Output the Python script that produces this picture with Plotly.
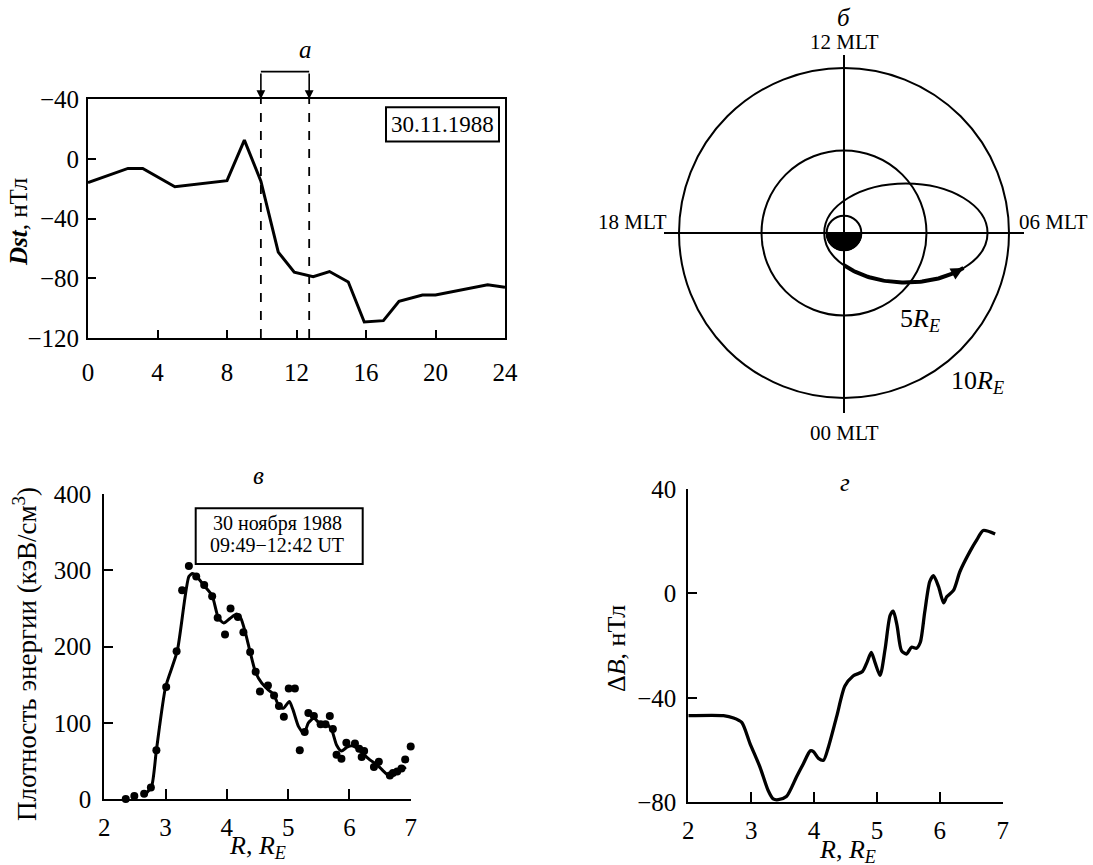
import numpy as np
import plotly.graph_objects as go

W, H = 1093, 865
FONT = "Liberation Serif"


def px(x):
    return x / W


def py(y):
    return 1 - y / H


# ---------------- Panel a: Dst index ----------------
dst_hours = [0, 2.3, 3.15, 5.0, 8.0, 9.0, 9.95, 10.95, 11.87, 12.96, 13.9, 14.98,
             15.9, 17.0, 17.9, 19.25, 20.0, 23.0, 24]
dst_values = [-16, -6.5, -6.5, -18.7, -14.7, 12.5, -15, -62.5, -76, -79, -75.5, -82.5,
              -109.3, -108.4, -95.5, -91.2, -91.2, -84.3, -86.1]
dst_tickvals = [-120, -80, -40, 0, 40]
dst_ticktext = ["−120", "−80", "−40", "0", "−40"]
hour_ticks = [0, 4, 8, 12, 16, 20, 24]
interval_hours = [9.95, 12.73]
date_label = "30.11.1988"

# ---------------- Panel б: orbit schematic (Earth radii) ----------------
ring_radii = [5, 10]
earth_radius = 1.05
orbit_x_span = [-1.2, 8.7]
orbit_y_span = [-3.0, 3.0]
pass_x_span = [0.0, 7.24]          # highlighted part of the orbit (x positions)
mlt_labels = ["12 MLT", "06 MLT", "00 MLT", "18 MLT"]
ring_labels = ["5<i>R</i><sub><i>E</i></sub>", "10<i>R</i><sub><i>E</i></sub>"]

# ---------------- Panel в: energy density ----------------
dot_r = [2.35, 2.49, 2.65, 2.76, 2.85, 3.01, 3.18, 3.27, 3.38, 3.50, 3.63, 3.76, 3.85,
         3.97, 4.06, 4.18, 4.27, 4.38, 4.47, 4.54, 4.67, 4.77, 4.85, 4.93, 5.01, 5.11,
         5.19, 5.27, 5.33, 5.42, 5.53, 5.61, 5.68, 5.73, 5.79, 5.87, 5.95, 6.09, 6.16,
         6.20, 6.24, 6.40, 6.48, 6.66, 6.71, 6.78, 6.85, 6.91, 7.0]
dot_energy = [0, 4, 7, 15, 64, 147, 194, 274, 306, 292, 281, 266, 238,
              216, 250, 239, 219, 193, 167, 141, 149, 136, 122, 108, 145, 145,
              64, 88, 113, 109, 98, 98, 109, 92, 58, 53, 74, 73, 66,
              55, 63, 42, 49, 31, 34, 36, 40, 52, 69]
fit_r = [2.65, 2.77, 2.85, 3.0, 3.19, 3.38, 3.44, 3.51, 3.63, 3.76, 3.86, 3.95, 4.05,
         4.16, 4.23, 4.30, 4.38, 4.47, 4.57, 4.68, 4.76, 4.85, 4.92, 5.02, 5.08, 5.17,
         5.26, 5.33, 5.42, 5.52, 5.63, 5.71, 5.79, 5.87, 5.96, 6.04, 6.12, 6.23, 6.34,
         6.45, 6.55, 6.64, 6.72, 6.80, 6.87, 6.92]
fit_energy = [5, 16, 64, 147, 194, 292, 296, 292, 280, 267, 238, 231, 237,
              243, 237, 219, 193, 166, 152, 143, 138, 122, 119, 128, 117, 95,
              86, 100, 106, 99, 98, 91, 71, 63, 68, 70, 67, 59, 51,
              45, 37, 31, 33, 36, 39, 42]
box_lines = ["30 ноября 1988", "09:49−12:42 UT"]

# ---------------- Panel г: ΔB ----------------
db_r = [2.0, 2.56, 2.72, 2.85, 2.98, 3.14, 3.27, 3.35, 3.43, 3.56, 3.72, 3.83, 3.94,
        3.99, 4.07, 4.15, 4.23, 4.36, 4.49, 4.62, 4.77, 4.84, 4.91, 4.97, 5.05, 5.13,
        5.21, 5.26, 5.32, 5.39, 5.47, 5.55, 5.63, 5.69, 5.76, 5.84, 5.90, 5.98, 6.06,
        6.11, 6.22, 6.32, 6.48, 6.59, 6.69, 6.88]
db_values = [-46.8, -46.8, -47.7, -49.4, -57.4, -66.5, -75.5, -78.7, -79, -77.8, -70.3,
             -65.2, -60.3, -60.6, -63.2, -63.9, -58.7, -47.1, -35.5, -31.6, -29.9,
             -26.5, -22.6, -26.5, -31.4, -21.3, -8.4, -6.8, -12.3, -21.9, -23.2,
             -20.6, -21.0, -18.7, -7.1, 4.5, 6.8, 2.6, -3.6, -1.3, 1.3, 8.4, 16.1,
             20.6, 24.1, 22.8]
r_ticks = [2, 3, 4, 5, 6, 7]

fig = go.Figure()

# ---- traces
fig.add_trace(go.Scatter(x=dst_hours, y=dst_values, mode="lines",
                         line=dict(color="black", width=3), xaxis="x", yaxis="y"))

fig.add_trace(go.Scatter(x=fit_r, y=fit_energy, mode="lines",
                         line=dict(color="black", width=3, shape="spline", smoothing=0.6),
                         xaxis="x2", yaxis="y2"))
fig.add_trace(go.Scatter(x=dot_r, y=dot_energy, mode="markers",
                         marker=dict(color="black", size=8), cliponaxis=False,
                         xaxis="x2", yaxis="y2"))

fig.add_trace(go.Scatter(x=db_r, y=db_values, mode="lines",
                         line=dict(color="black", width=3.3, shape="spline", smoothing=0.7),
                         xaxis="x4", yaxis="y4"))

# Orbit schematic: highlighted pass along the ellipse
ocx = (orbit_x_span[0] + orbit_x_span[1]) / 2
oa = (orbit_x_span[1] - orbit_x_span[0]) / 2
ob = (orbit_y_span[1] - orbit_y_span[0]) / 2
t1 = 2 * np.pi - np.arccos((pass_x_span[0] - ocx) / oa)
t2 = 2 * np.pi - np.arccos((pass_x_span[1] - ocx) / oa)
tt = np.linspace(t1, t2, 80)
fig.add_trace(go.Scatter(x=ocx + oa * np.cos(tt), y=ob * np.sin(tt), mode="lines",
                         line=dict(color="black", width=4), xaxis="x3", yaxis="y3"))
ta = t2 - 0.12

# ---- layout axes
common = dict(showgrid=False, zeroline=False, showline=True, linecolor="black",
              linewidth=2, ticks="inside", tickcolor="black", tickwidth=2,
              automargin=False,
              tickfont=dict(family=FONT, size=25, color="black"))

layout = dict(
    template="none",
    width=W, height=H, margin=dict(l=0, r=0, t=0, b=0, autoexpand=False),
    paper_bgcolor="white", plot_bgcolor="white", showlegend=False,
    xaxis=dict(domain=[px(88), px(505)], range=[0, 24], tickvals=hour_ticks,
               ticklen=8, mirror=True, anchor="y", ticklabelstandoff=11, **common),
    yaxis=dict(domain=[py(338), py(99)], range=[-120, 40], tickvals=dst_tickvals,
               ticktext=dst_ticktext, ticklen=8, mirror=True, anchor="x",
               ticklabelstandoff=2, **common),
    xaxis2=dict(domain=[px(104.3), px(410.7)], range=[2, 7], tickvals=r_ticks,
                ticklen=10, anchor="y2", ticklabelstandoff=5, **common),
    yaxis2=dict(domain=[py(799), py(494.3)], range=[0, 400], dtick=100,
                ticklen=9, anchor="x2", ticklabelstandoff=6, **common),
    xaxis4=dict(domain=[px(688.3), px(1002.7)], range=[2, 7], tickvals=r_ticks,
                ticklen=10, anchor="y4", ticklabelstandoff=5, **common),
    yaxis4=dict(domain=[py(802.3), py(489)], range=[-80, 40], tickvals=[-80, -40, 0, 40],
                ticklen=9, anchor="x4", ticklabelstandoff=5, **common),
    xaxis3=dict(domain=[px(664), px(1024)], range=[-10.909, 10.909], visible=False,
                anchor="y3", automargin=False),
    yaxis3=dict(domain=[py(413), py(55)], range=[-10.909, 10.788], visible=False,
                anchor="x3", automargin=False),
)
fig.update_layout(**layout)

shapes = []
ann = []


def text_ann(x, y, text, size, **kw):
    d = dict(x=px(x), y=py(y), xref="paper", yref="paper", text=text, showarrow=False,
             xanchor="center", yanchor="middle",
             font=dict(family=FONT, size=size, color="black"))
    d.update(kw)
    return d


# Panel a extras
for xh in interval_hours:
    shapes.append(dict(type="line", xref="x", yref="y", x0=xh, x1=xh, y0=-120, y1=40,
                       line=dict(color="black", width=1.8, dash="dash")))
    ann.append(dict(x=xh, y=py(99), xref="x", yref="paper", ax=0, ay=-27,
                    showarrow=True, arrowhead=2, arrowsize=1.1, arrowwidth=1.6,
                    arrowcolor="black", text="", standoff=0))
shapes.append(dict(type="line", xref="x", yref="paper", x0=interval_hours[0],
                   x1=interval_hours[1], y0=py(71.7), y1=py(71.7),
                   line=dict(color="black", width=1.8)))
shapes.append(dict(type="rect", xref="paper", yref="paper", x0=px(386), x1=px(499),
                   y0=py(141.5), y1=py(107.3), line=dict(color="black", width=2)))
ann.append(text_ann(442.5, 124.5, date_label, 23))
ann.append(text_ann(305, 50, "<i>a</i>", 25))
ann.append(text_ann(19, 222, "<b><i>Dst</i></b>, нТл", 25, textangle=-90))

# Panel б
shapes.append(dict(type="line", xref="x3", yref="y3", x0=-10.909, x1=10.909, y0=0, y1=0,
                   line=dict(color="black", width=2)))
shapes.append(dict(type="line", xref="x3", yref="y3", x0=0, x1=0, y0=-10.909, y1=10.788,
                   line=dict(color="black", width=2)))
for rr in ring_radii:
    shapes.append(dict(type="circle", xref="x3", yref="y3", x0=-rr, x1=rr, y0=-rr, y1=rr,
                       line=dict(color="black", width=2)))
shapes.append(dict(type="circle", xref="x3", yref="y3", x0=orbit_x_span[0],
                   x1=orbit_x_span[1], y0=orbit_y_span[0], y1=orbit_y_span[1],
                   line=dict(color="black", width=2)))
er = earth_radius
k = 0.5523 * er
shapes.append(dict(type="path", xref="x3", yref="y3",
                   path=f"M {-er},0 C {-er},{-k} {-k},{-er} 0,{-er} C {k},{-er} {er},{-k} {er},0 Z",
                   fillcolor="black", line=dict(color="black", width=1.5)))
shapes.append(dict(type="circle", xref="x3", yref="y3", x0=-er, x1=er, y0=-er, y1=er,
                   line=dict(color="black", width=2)))
ann.append(dict(x=ocx + oa * np.cos(t2), y=ob * np.sin(t2), xref="x3", yref="y3",
                ax=ocx + oa * np.cos(ta), ay=ob * np.sin(ta), axref="x3", ayref="y3",
                showarrow=True, arrowhead=2, arrowsize=1.0, arrowwidth=2.5,
                arrowcolor="black", text="", standoff=0))
ann.append(text_ann(844, 41.7, mlt_labels[0], 21))
ann.append(text_ann(1017, 221.7, mlt_labels[1], 21, xanchor="left"))
ann.append(text_ann(844, 433, mlt_labels[2], 21))
ann.append(text_ann(669, 221.7, mlt_labels[3], 21, xanchor="right"))
ann.append(text_ann(844, 18, "<i>б</i>", 25))
ann.append(text_ann(920, 320, ring_labels[0], 26))
ann.append(text_ann(977, 382, ring_labels[1], 26))

# Panel в
shapes.append(dict(type="rect", xref="paper", yref="paper", x0=px(195.7), x1=px(362.7),
                   y0=py(564), y1=py(508.3), line=dict(color="black", width=2)))
ann.append(text_ann(277, 523.5, box_lines[0], 20))
ann.append(text_ann(277, 545, box_lines[1], 20))
ann.append(text_ann(258, 475, "<i>в</i>", 25))
ann.append(text_ann(25, 654, "Плотность энергии (кэВ/см<sup>3</sup>)", 27, textangle=-90))
ann.append(text_ann(257, 847, "<i>R</i>, <i>R</i><sub><i>E</i></sub>", 26))

# Panel г
ann.append(text_ann(845, 482, "<i>г</i>", 25))
ann.append(text_ann(616, 649, "Δ<i>B</i>, нТл", 26, textangle=-90))
ann.append(text_ann(847, 851, "<i>R</i>, <i>R</i><sub><i>E</i></sub>", 26))

fig.update_layout(shapes=shapes, annotations=ann)

fig.write_html("out.html", config={"displayModeBar": False},
               post_script="document.body.style.margin='0';document.body.style.overflow='hidden';")
